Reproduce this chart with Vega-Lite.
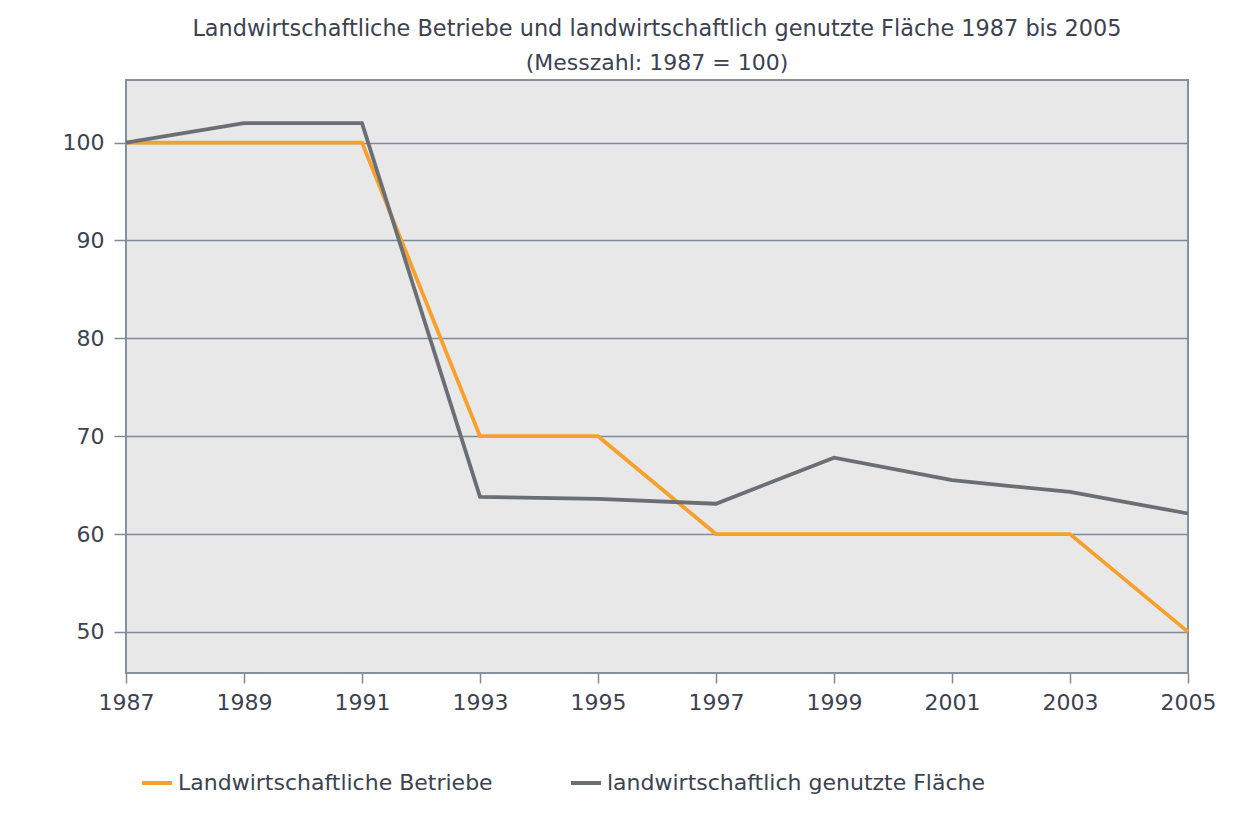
{
  "$schema": "https://vega.github.io/schema/vega-lite/v6.json",
  "width": 1062,
  "height": 593,
  "autosize": {"type": "none"},
  "padding": {"left": 126, "top": 80, "right": 66, "bottom": 159},
  "background": "white",
  "title": {
    "text": "Landwirtschaftliche Betriebe und landwirtschaftlich genutzte Fläche 1987 bis 2005",
    "subtitle": "(Messzahl: 1987 = 100)",
    "anchor": "middle",
    "frame": "group",
    "font": "DejaVu Sans",
    "fontSize": 22.4,
    "fontWeight": "normal",
    "color": "#3c4250",
    "subtitleFont": "DejaVu Sans",
    "subtitleFontSize": 22,
    "subtitleColor": "#3c4250",
    "subtitlePadding": 13,
    "offset": 6
  },
  "data": {
    "values": [
      {"year": 1987, "series": "Landwirtschaftliche Betriebe", "value": 100},
      {"year": 1989, "series": "Landwirtschaftliche Betriebe", "value": 100},
      {"year": 1991, "series": "Landwirtschaftliche Betriebe", "value": 100},
      {"year": 1993, "series": "Landwirtschaftliche Betriebe", "value": 70},
      {"year": 1995, "series": "Landwirtschaftliche Betriebe", "value": 70},
      {"year": 1997, "series": "Landwirtschaftliche Betriebe", "value": 60},
      {"year": 1999, "series": "Landwirtschaftliche Betriebe", "value": 60},
      {"year": 2001, "series": "Landwirtschaftliche Betriebe", "value": 60},
      {"year": 2003, "series": "Landwirtschaftliche Betriebe", "value": 60},
      {"year": 2005, "series": "Landwirtschaftliche Betriebe", "value": 50},
      {"year": 1987, "series": "landwirtschaftlich genutzte Fläche", "value": 100},
      {"year": 1989, "series": "landwirtschaftlich genutzte Fläche", "value": 102},
      {"year": 1991, "series": "landwirtschaftlich genutzte Fläche", "value": 102},
      {"year": 1993, "series": "landwirtschaftlich genutzte Fläche", "value": 63.8},
      {"year": 1995, "series": "landwirtschaftlich genutzte Fläche", "value": 63.6},
      {"year": 1997, "series": "landwirtschaftlich genutzte Fläche", "value": 63.1},
      {"year": 1999, "series": "landwirtschaftlich genutzte Fläche", "value": 67.8},
      {"year": 2001, "series": "landwirtschaftlich genutzte Fläche", "value": 65.5},
      {"year": 2003, "series": "landwirtschaftlich genutzte Fläche", "value": 64.3},
      {"year": 2005, "series": "landwirtschaftlich genutzte Fläche", "value": 62.1}
    ]
  },
  "mark": {"type": "line", "strokeWidth": 3.8, "clip": false},
  "encoding": {
    "x": {
      "field": "year",
      "type": "quantitative",
      "scale": {"domain": [1987, 2005], "nice": false, "zero": false},
      "axis": {
        "title": null,
        "values": [1987, 1989, 1991, 1993, 1995, 1997, 1999, 2001, 2003, 2005],
        "format": "d",
        "grid": false,
        "domain": false,
        "labelFlush": false,
        "tickSize": 10,
        "tickColor": "#7d8a9a",
        "tickWidth": 1.5,
        "labelPadding": 9,
        "labelFont": "DejaVu Sans",
        "labelFontSize": 22,
        "labelColor": "#3c4250"
      }
    },
    "y": {
      "field": "value",
      "type": "quantitative",
      "scale": {"domain": [45.8, 106.4], "nice": false, "zero": false},
      "axis": {
        "title": null,
        "values": [50, 60, 70, 80, 90, 100],
        "grid": true,
        "gridColor": "#7d8a9a",
        "gridWidth": 1.5,
        "domain": false,
        "tickSize": 12,
        "tickColor": "#7d8a9a",
        "tickWidth": 1.5,
        "labelPadding": 10,
        "labelFont": "DejaVu Sans",
        "labelFontSize": 22,
        "labelColor": "#3c4250"
      }
    },
    "color": {
      "field": "series",
      "type": "nominal",
      "scale": {
        "domain": ["Landwirtschaftliche Betriebe", "landwirtschaftlich genutzte Fläche"],
        "range": ["#f7a02c", "#6a6e75"]
      },
      "legend": {
        "title": null,
        "orient": "none",
        "legendX": 14,
        "legendY": 686,
        "direction": "horizontal",
        "symbolType": "stroke",
        "symbolSize": 900,
        "symbolStrokeWidth": 4,
        "labelFont": "DejaVu Sans",
        "labelFontSize": 22,
        "labelColor": "#3c4250",
        "labelOffset": 4,
        "columnPadding": 70,
        "labelLimit": 600
      }
    }
  },
  "config": {
    "view": {"fill": "#e8e8e8", "stroke": "#8591a0", "strokeWidth": 2}
  }
}
